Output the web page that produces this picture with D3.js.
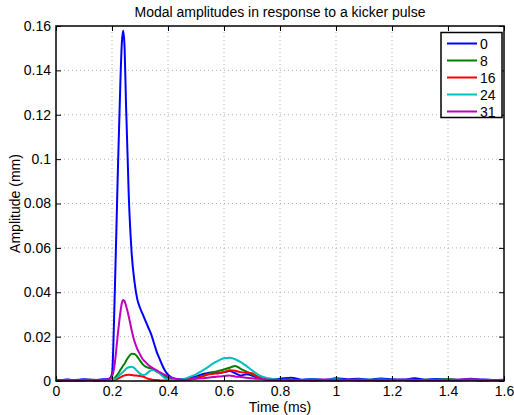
<!DOCTYPE html>
<html><head><meta charset="utf-8">
<script src="https://cdn.jsdelivr.net/npm/d3@7/dist/d3.min.js"></script>
<style>
body{margin:0;background:#fff;}
text{font-family:"Liberation Sans",Arial,Helvetica,sans-serif;}
</style></head>
<body><svg id="chart" width="514" height="415"></svg>
<script>
const title = "Modal amplitudes in response to a kicker pulse";
const xLabel = "Time (ms)";
const yLabel = "Amplitude (mm)";
const xTicks = [0,0.2,0.4,0.6,0.8,1,1.2,1.4,1.6];
const yTicks = [0,0.02,0.04,0.06,0.08,0.1,0.12,0.14,0.16];
const seriesNames = ["0","8","16","24","31"];
const seriesColors = ["#0000ff","#008000","#ff0000","#00bfbf","#bf00bf"];

const times = [0,0.02,0.04,0.06,0.08,0.10,0.12,0.14,0.16,0.18,
  0.19,0.20,0.21,0.22,0.23,0.235,0.24,0.245,0.25,
  0.26,0.27,0.28,0.29,0.30,0.31,0.32,0.33,0.34,0.35,0.36,0.37,0.38,0.39,0.40,
  0.42,0.44,0.46,0.48,0.50,0.52,0.54,0.56,0.58,0.60,0.62,0.64,0.66,0.68,0.70,0.72,0.74,0.76,0.78,0.80,
  0.84,0.88,0.92,0.96,1.00,1.04,1.08,1.12,1.16,1.20,1.24,1.28,1.32,1.36,1.40,1.44,1.48,1.52,1.56,1.60];

const mode0 = [0.0006,0.0005,0.0007,0.0005,0.0006,0.0008,0.0006,0.0005,0.0007,0.0008,
  0.001,0.003,0.040,0.090,0.135,0.152,0.158,0.150,0.125,
  0.083,0.058,0.045,0.037,0.033,0.030,0.027,0.024,0.021,0.017,0.013,0.010,0.007,0.0045,0.0028,
  0.0012,0.0008,0.0008,0.0015,0.002,0.003,0.0035,0.004,0.0035,0.004,0.0045,0.0035,0.0025,0.003,0.0025,0.0015,0.001,0.0008,0.0008,0.001,
  0.0015,0.0006,0.0009,0.0005,0.0012,0.0008,0.001,0.0006,0.0011,0.0008,0.0007,0.0012,0.0006,0.0009,0.0007,0.0006,0.001,0.0007,0.0005,0.0006];

const mode8 = [0.0003,0.0004,0.0002,0.0005,0.0003,0.0004,0.0006,0.0003,0.0004,0.0004,
  0.0005,0.0008,0.0015,0.003,0.005,0.006,0.007,0.0078,0.009,
  0.011,0.0123,0.0122,0.011,0.0092,0.0075,0.0065,0.006,0.0057,0.005,0.0042,0.0035,0.0028,0.002,0.0015,
  0.0008,0.0005,0.0005,0.001,0.0015,0.0022,0.003,0.0038,0.0045,0.0052,0.006,0.0068,0.0055,0.0042,0.003,0.002,0.0012,0.0008,0.0005,0.0004,
  0.0005,0.0003,0.0006,0.0004,0.0003,0.0005,0.0004,0.0006,0.0003,0.0005,0.0004,0.0003,0.0006,0.0004,0.0009,0.0004,0.0005,0.0003,0.0004,0.0003];

const mode16 = [0.0002,0.0001,0.0003,0.0002,0.0001,0.0002,0.0003,0.0001,0.0002,0.0002,
  0.0002,0.0003,0.0005,0.001,0.0016,0.002,0.0023,0.0025,0.0027,
  0.0028,0.0027,0.0025,0.0024,0.0023,0.002,0.0015,0.001,0.0007,0.0005,0.0004,0.0003,0.0002,0.0002,0.0003,
  0.0002,0.0003,0.0004,0.0008,0.0012,0.002,0.0028,0.0032,0.0035,0.004,0.0048,0.0046,0.004,0.0038,0.0035,0.0018,0.001,0.0006,0.0004,0.0003,
  0.0002,0.0004,0.0002,0.0003,0.0002,0.0004,0.0002,0.0003,0.0002,0.0003,0.0004,0.0002,0.0003,0.0002,0.0003,0.0002,0.0004,0.0002,0.0003,0.0002];

const mode24 = [0.0004,0.0003,0.0005,0.0004,0.0003,0.0005,0.0004,0.0006,0.0003,0.0004,
  0.0004,0.0006,0.001,0.0018,0.003,0.0036,0.0042,0.0048,0.0055,
  0.0062,0.0064,0.0058,0.0045,0.0033,0.0027,0.003,0.004,0.0048,0.005,0.0045,0.0035,0.0022,0.0012,0.0008,
  0.0005,0.0005,0.001,0.002,0.003,0.0045,0.006,0.0078,0.0092,0.0103,0.0105,0.0098,0.0085,0.0068,0.0048,0.003,0.0018,0.0012,0.0008,0.0005,
  0.0006,0.0004,0.0007,0.0005,0.0008,0.0004,0.0006,0.0005,0.0007,0.0004,0.0006,0.0005,0.0004,0.0006,0.0005,0.0004,0.0006,0.0005,0.0004,0.0005];

const mode31 = [0.0005,0.0004,0.0006,0.0004,0.0005,0.0004,0.0006,0.0005,0.0004,0.0005,
  0.0008,0.002,0.008,0.020,0.031,0.035,0.0365,0.036,0.034,
  0.029,0.023,0.018,0.0145,0.012,0.0098,0.0085,0.0072,0.0063,0.0055,0.0048,0.004,0.0033,0.0027,0.002,
  0.0012,0.0007,0.0005,0.0007,0.001,0.0012,0.0015,0.0018,0.002,0.0022,0.0025,0.002,0.0018,0.0015,0.0012,0.001,0.0008,0.0006,0.0005,0.0004,
  0.0006,0.0004,0.0005,0.0007,0.0004,0.0005,0.0006,0.0004,0.0005,0.0004,0.0006,0.0005,0.0004,0.0005,0.0004,0.0006,0.0008,0.0005,0.0004,0.0005];

const seriesValues = [mode0, mode8, mode16, mode24, mode31];

const svg = d3.select("#chart");
const m = {left:56, right:10, top:26, bottom:34};
const W = 514, H = 415;
const FS = 14;
const x = d3.scaleLinear().domain([0,1.6]).range([m.left, W - m.right]);
const y = d3.scaleLinear().domain([0,0.16]).range([H - m.bottom, m.top]);
const x0 = x.range()[0], x1 = x.range()[1], y0 = y.range()[0], y1 = y.range()[1];

// grid
const g = svg.append("g");
xTicks.slice(1,-1).forEach(t => g.append("line").attr("x1",x(t)).attr("x2",x(t)).attr("y1",y0).attr("y2",y1)
  .attr("stroke","#b0b0b0").attr("stroke-width",1).attr("stroke-dasharray","1,3"));
yTicks.slice(1,-1).forEach(t => g.append("line").attr("x1",x0).attr("x2",x1).attr("y1",y(t)).attr("y2",y(t))
  .attr("stroke","#b0b0b0").attr("stroke-width",1).attr("stroke-dasharray","1,3"));

// lines
const line = d3.line().x((d,i)=>x(times[i])).y(d=>y(d)).curve(d3.curveMonotoneX);
svg.append("clipPath").attr("id","clip").append("rect").attr("x",x0).attr("y",y1).attr("width",x1-x0).attr("height",y0-y1+2);
seriesValues.forEach((vals,k)=>{
  svg.append("path").datum(vals).attr("d",line).attr("fill","none").attr("stroke",seriesColors[k])
    .attr("stroke-width",2).attr("stroke-linejoin","round").attr("clip-path","url(#clip)");
});

// axes
const tl = 5;
const xAxB = d3.axisBottom(x).tickValues(xTicks).tickSize(-tl).tickPadding(5).tickFormat(d3.format("~g"));
const xAxT = d3.axisTop(x).tickValues(xTicks).tickSize(-tl).tickFormat("");
const yAxL = d3.axisLeft(y).tickValues(yTicks).tickSize(-tl).tickPadding(5).tickFormat(d3.format("~g"));
const yAxR = d3.axisRight(y).tickValues(yTicks).tickSize(-tl).tickFormat("");
function style(sel){ sel.selectAll("path").remove();
  sel.selectAll("line").attr("stroke","#000").attr("stroke-width",1);
  sel.selectAll("text").attr("font-size",FS).attr("fill","#000").attr("font-family","Liberation Sans, Arial, sans-serif"); }
svg.append("g").attr("transform",`translate(0,${y0})`).call(xAxB).call(style);
svg.append("g").attr("transform",`translate(0,${y1})`).call(xAxT).call(style);
svg.append("g").attr("transform",`translate(${x0},0)`).call(yAxL).call(style);
svg.append("g").attr("transform",`translate(${x1},0)`).call(yAxR).call(style);
svg.append("rect").attr("x",x0).attr("y",y1).attr("width",x1-x0).attr("height",y0-y1)
  .attr("fill","none").attr("stroke","#000").attr("stroke-width",1.5);

// titles
svg.append("text").attr("x",(x0+x1)/2).attr("y",17).attr("text-anchor","middle").attr("font-size",FS).text(title);
svg.append("text").attr("x",(x0+x1)/2).attr("y",412).attr("text-anchor","middle").attr("font-size",FS).text(xLabel);
svg.append("text").attr("transform",`translate(20,${(y0+y1)/2}) rotate(-90)`).attr("text-anchor","middle").attr("font-size",FS).text(yLabel);

// legend
const lg = svg.append("g");
lg.append("rect").attr("x",441).attr("y",32.5).attr("width",61).attr("height",85).attr("fill","#fff").attr("stroke","#000").attr("stroke-width",1.5);
seriesNames.forEach((n,k)=>{
  const ly = 43.5 + k*17;
  lg.append("line").attr("x1",447).attr("x2",477).attr("y1",ly).attr("y2",ly).attr("stroke",seriesColors[k]).attr("stroke-width",2);
  lg.append("text").attr("x",480).attr("y",ly+5).attr("font-size",FS).text(n);
});
</script></body></html>
